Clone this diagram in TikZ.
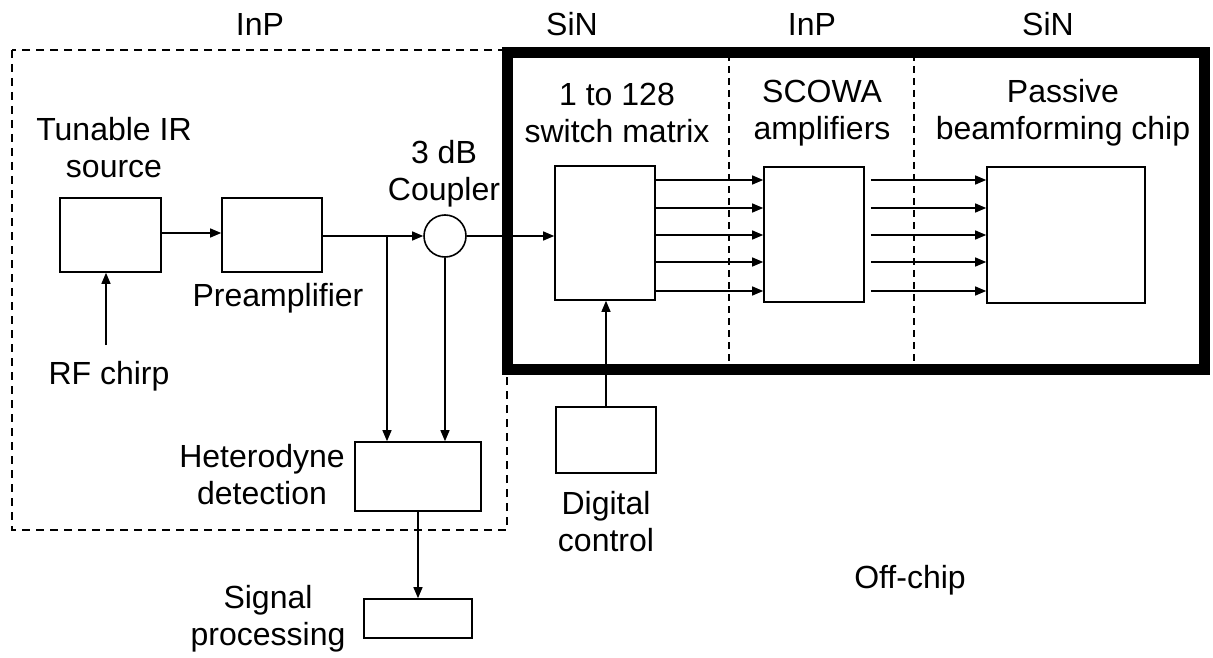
\documentclass[tikz,border=0pt]{standalone}
\usepackage{fontspec}
\setmainfont{Liberation Sans}
\usetikzlibrary{arrows.meta,calc}
\begin{document}
\begin{tikzpicture}[x=1pt,y=-1pt,
  box/.style={draw,line width=1.6pt,minimum width=#1,inner sep=0pt},
  lbl/.style={align=center,font=\fontsize{32}{37}\selectfont,inner sep=0pt},
  arr/.style={line width=1.2pt,-{Triangle[length=11pt,width=9pt]}},
  ln/.style={line width=1.2pt},
  region/.style={dashed,line width=1.6pt,dash pattern=on 8pt off 6pt},
  sep/.style={line width=1.5pt,dash pattern=on 7pt off 5pt}]
\useasboundingbox (0,0) rectangle (1213,658);
% regions
\draw[region] (12,50) rectangle (507,530);
\node[draw,line width=11pt,minimum width=697pt,minimum height=316pt,inner sep=0pt] (chip) at (855.5,211) {};
\draw[sep] (729,54) -- (729,370);
\draw[sep] (914,54) -- (914,370);
% top labels
\node[lbl] (t1) at (260,24) {InP};
\node[lbl] (t2) at (572,24) {SiN};
\node[lbl] (t3) at (812,24) {InP};
\node[lbl] (t4) at (1048,24) {SiN};
% boxes
\node[box=101pt,minimum height=74pt] (src) at (110.5,235) {};
\node[box=100pt,minimum height=74pt] (pre) at (272,235) {};
\node[draw,circle,line width=1.6pt,minimum size=42pt,inner sep=0pt] (cpl) at (445,236) {};
\node[box=100pt,minimum height=134pt] (sw) at (605,233) {};
\node[box=100pt,minimum height=135pt] (sc) at (814,234.5) {};
\node[box=158pt,minimum height=136pt] (bf) at (1066,235) {};
\node[box=126pt,minimum height=69pt] (het) at (418,476.5) {};
\node[box=108pt,minimum height=39pt] (sp) at (418,618.5) {};
\node[box=100pt,minimum height=66pt] (dc) at (606,440) {};
% labels
\node[lbl] (lsrc) at (114,148) {Tunable IR\\source};
\node[lbl] (lpre) at (278,298) {Preamplifier};
\node[lbl] (lcpl) at (444,174) {3 dB\\Coupler};
\node[lbl] (lrf) at (109,376) {RF chirp};
\node[lbl] (lhet) at (262,475) {Heterodyne\\detection};
\node[lbl] (lsp) at (268,619) {Signal\\processing};
\node[lbl] (ldc) at (606,522) {Digital\\control};
\node[lbl] (lsw) at (617,113) {1 to 128\\switch matrix};
\node[lbl] (lsc) at (822,113) {SCOWA\\amplifiers};
\node[lbl] (lbf) at (1063,113) {Passive\\beamforming chip};
\node[lbl] (loff) at (910,580) {Off-chip};
% connectors
\coordinate (rf) at (106,345);
\coordinate (tap) at (387,236);
\draw[arr] (rf) -- (rf |- src.south);
\draw[arr] (src.east |- 0,233) -- (pre.west |- 0,233);
\draw[arr] (pre.east |- 0,236) -- (cpl.west);
\draw[arr] (tap) -- (tap |- het.north);
\draw[arr] (cpl.south) -- (cpl.south |- het.north);
\draw[arr] (cpl.east) -- (cpl.east -| sw.west);
\foreach \yy in {180,208,235,262,291}{
  \draw[arr] (sw.east |- 0,\yy) -- (sc.west |- 0,\yy);
  \draw[arr] ([xshift=6pt]sc.east |- 0,\yy) -- (bf.west |- 0,\yy);
}
\draw[arr] (dc.north) -- (dc.north |- sw.south);
\draw[arr] (het.south) -- (sp.north);
\end{tikzpicture}
\end{document}
